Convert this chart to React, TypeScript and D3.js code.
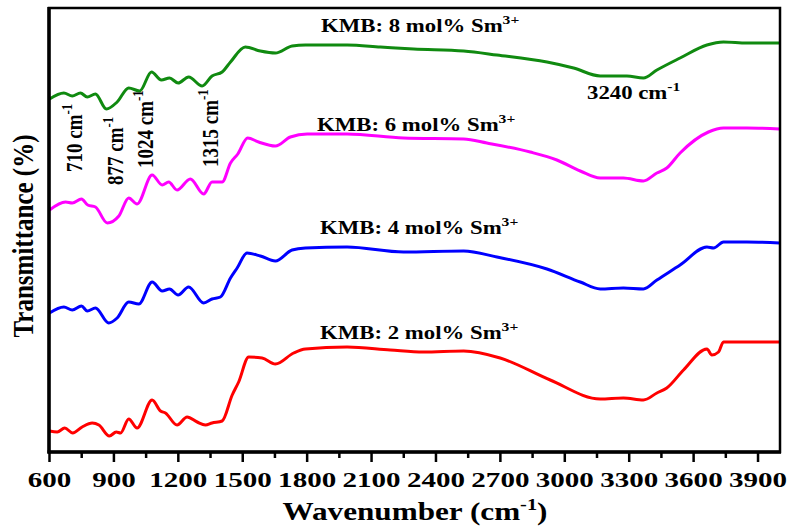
import React from "react";
import * as d3 from "d3";

// Wavenumber (cm-1) and relative transmittance (arbitrary offset units) per sample
const wn8 = [600, 667, 706, 744, 776, 814, 865, 915, 969, 1020, 1075, 1121, 1159, 1199, 1248, 1311, 1357, 1404, 1443, 1512, 1582, 1652, 1730, 1792, 1830, 1986, 2141, 2296, 2529, 2684, 2917, 3041, 3165, 3289, 3366, 3429, 3537, 3662, 3739, 3848, 4000];
const t8 = [353, 359, 356, 359, 355, 358, 343, 350, 364, 361, 380, 372, 374, 369, 375, 366, 376, 380, 390, 405, 401, 399, 406, 407, 407, 407, 405, 403, 401, 397, 390, 384, 376, 376, 374, 382, 394, 407, 410, 409, 409];

const wn6 = [600, 675, 706, 749, 778, 814, 869, 923, 969, 1008, 1078, 1125, 1155, 1194, 1256, 1318, 1357, 1404, 1443, 1477, 1523, 1574, 1652, 1722, 1800, 1986, 2249, 2529, 2637, 2839, 2963, 3072, 3165, 3273, 3366, 3429, 3475, 3537, 3669, 3739, 3848, 4000];
const t6 = [242, 250, 249, 253, 247, 245, 229, 236, 254, 248, 277, 267, 270, 262, 273, 258, 270, 270, 289, 298, 314, 310, 306, 315, 318, 318, 314, 313, 309, 300, 292, 281, 274, 274, 271, 279, 284, 299, 320, 324, 324, 323];

const wn4 = [600, 667, 706, 749, 776, 814, 876, 915, 969, 1016, 1078, 1125, 1159, 1199, 1248, 1318, 1357, 1396, 1443, 1474, 1520, 1582, 1652, 1730, 1792, 1986, 2249, 2529, 2684, 2917, 3072, 3165, 3273, 3366, 3429, 3537, 3662, 3693, 3739, 3848, 4000];
const t4 = [139, 145, 142, 146, 141, 144, 129, 134, 150, 148, 170, 161, 163, 157, 165, 149, 153, 155, 174, 184, 199, 196, 191, 202, 204, 205, 200, 201, 195, 183, 170, 163, 164, 163, 172, 187, 205, 204, 210, 210, 209];

const wn2 = [600, 636, 671, 708, 752, 799, 830, 879, 911, 931, 969, 1008, 1078, 1117, 1140, 1194, 1241, 1288, 1326, 1357, 1404, 1451, 1481, 1528, 1590, 1652, 1737, 1792, 1986, 2187, 2341, 2529, 2699, 2932, 3165, 3273, 3366, 3429, 3475, 3553, 3662, 3685, 3716, 3739, 3894, 4000];
const t2 = [21, 20, 24, 19, 25, 29, 27, 16, 20, 19, 33, 24, 52, 41, 39, 27, 35, 30, 27, 29, 31, 57, 70, 95, 94, 88, 99, 103, 105, 102, 100, 101, 94, 72, 53, 54, 52, 59, 64, 82, 103, 97, 100, 110, 110, 110];

const seriesNames = ["KMB: 8 mol% Sm", "KMB: 6 mol% Sm", "KMB: 4 mol% Sm", "KMB: 2 mol% Sm"];
const seriesColors = ["#108a10", "#ff00ff", "#0000ff", "#ff0000"];
const majorTicks = [600, 900, 1200, 1500, 1800, 2100, 2400, 2700, 3000, 3300, 3600, 3900];
const minorTicks = [750, 1050, 1350, 1650, 1950, 2250, 2550, 2850, 3150, 3450, 3750];
const peakLabels = ["710 cm", "877 cm", "1024 cm", "1315 cm"];

const W = 787, H = 526;
const L = 49, R = 780, T = 8, B = 452;
const FONT = "'Liberation Serif', 'Times New Roman', serif";

const x = d3.scaleLinear().domain([600, 4000]).range([L + 0.5, R - 0.5]);
const y = d3.scaleLinear().domain([0, 444]).range([B, T]);

function ST({ x: px, y: py, size, anchor = "start", rot = false, sx = 1.2, children }: any) {
  return (
    <g transform={`translate(${px},${py}) scale(${sx},1)${rot ? " rotate(-90)" : ""}`}>
      <text fontFamily={FONT} fontWeight="bold" fontSize={size} textAnchor={anchor} fill="#000">
        {children}
      </text>
    </g>
  );
}

export default function App() {
  const line = d3
    .line<[number, number]>()
    .x((d) => x(d[0]))
    .y((d) => y(d[1]))
    .curve(d3.curveMonotoneX);

  const data: [number[], number[]][] = [
    [wn8, t8],
    [wn6, t6],
    [wn4, t4],
    [wn2, t2],
  ];
  const labelPos = [
    [321, 32],
    [317, 131],
    [320, 234],
    [320, 339],
  ];
  const peakPos = [
    [82, 172],
    [123, 185],
    [153, 168],
    [218, 167],
  ];

  return (
    <svg width={W} height={H} style={{ position: "absolute", left: 0, top: 0, background: "#fff" }}>
      <rect x={0} y={0} width={W} height={H} fill="#fff" />
      {data.map(([wn, tv], i) => (
        <path
          key={i}
          d={line(wn.map((w, j) => [w, tv[j]] as [number, number])) || ""}
          fill="none"
          stroke={seriesColors[i]}
          strokeWidth={3}
          strokeLinejoin="round"
        />
      ))}
      {/* frame */}
      <rect x={L} y={T} width={R - L} height={B - T} fill="none" stroke="#000" strokeWidth={2.5} />
      <line x1={L} x2={L} y1={T - 1} y2={B + 1.5} stroke="#000" strokeWidth={3.5} />
      <line x1={L - 1.5} x2={R + 1} y1={B} y2={B} stroke="#000" strokeWidth={3.5} />
      {majorTicks.map((t) => (
        <line key={"M" + t} x1={x(t)} x2={x(t)} y1={B} y2={B + 10} stroke="#000" strokeWidth={2.5} />
      ))}
      {minorTicks.map((t) => (
        <line key={"m" + t} x1={x(t)} x2={x(t)} y1={B} y2={B + 6} stroke="#000" strokeWidth={2.5} />
      ))}
      {majorTicks.map((t) => (
        <ST key={"l" + t} x={x(t)} y={487} size={22} sx={1.32} anchor="middle">
          {t}
        </ST>
      ))}
      {/* series labels */}
      {seriesNames.map((n, i) => (
        <ST key={"s" + i} x={labelPos[i][0]} y={labelPos[i][1]} size={19}>
          {n}
          <tspan dy={-8} fontSize={13}>
            3+
          </tspan>
        </ST>
      ))}
      {peakLabels.map((p, i) => (
        <ST key={"p" + i} x={peakPos[i][0]} y={peakPos[i][1]} size={19} rot>
          {p}
          <tspan dy={-8} fontSize={13}>
            -1
          </tspan>
        </ST>
      ))}
      <ST x={587} y={99} size={19}>
        3240 cm
        <tspan dy={-8} fontSize={13}>
          -1
        </tspan>
      </ST>
      {/* axis titles */}
      <ST x={415} y={520} size={26} sx={1.2} anchor="middle">
        Wavenumber (cm
        <tspan dy={-10} fontSize={17}>
          -1
        </tspan>
        <tspan dy={10}>)</tspan>
      </ST>
      <ST x={33} y={236} size={25} anchor="middle" rot>
        Transmittance (%)
      </ST>
    </svg>
  );
}
